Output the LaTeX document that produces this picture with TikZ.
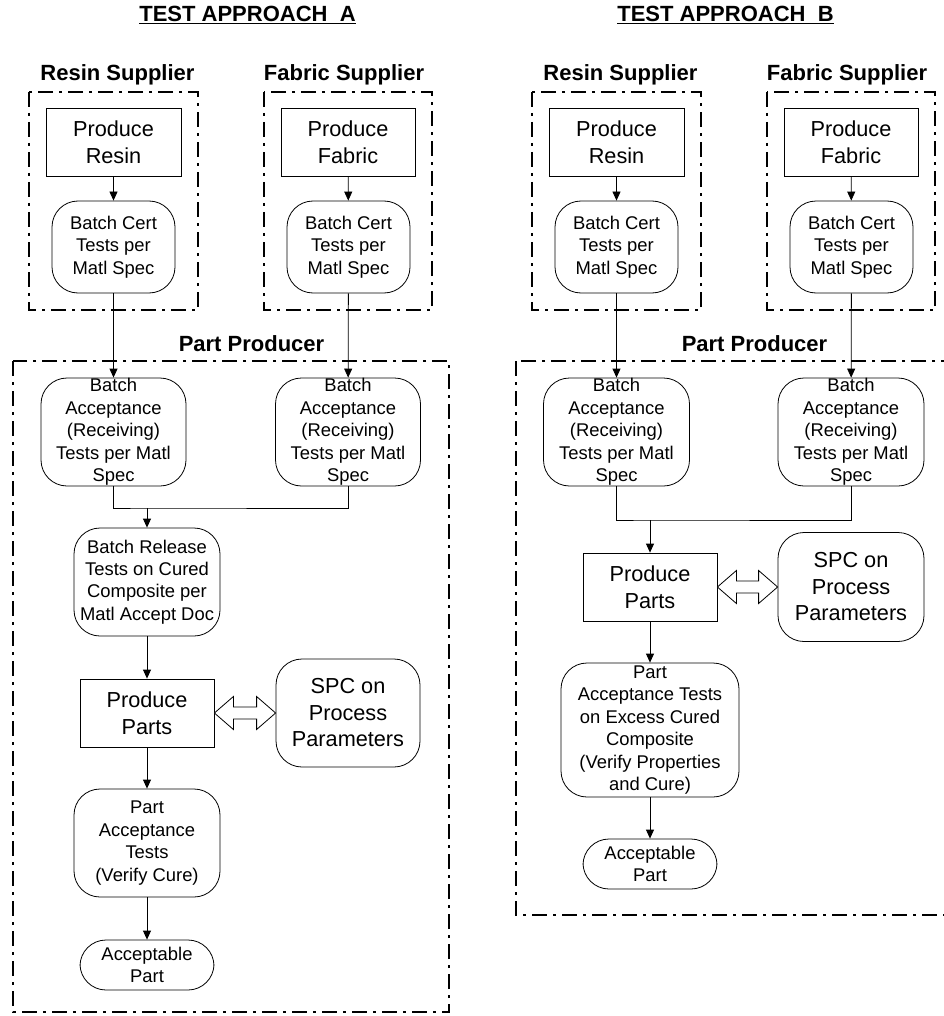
\documentclass[tikz,border=0pt]{standalone}
\usepackage{fontspec}
\setmainfont{Liberation Sans}
\usetikzlibrary{arrows.meta,calc}

\begin{document}
\begin{tikzpicture}[x=1pt,y=-1pt,
    every node/.style={inner sep=0pt, align=center},
    proc/.style={draw, line width=0.8pt, minimum width=134pt, minimum height=68pt,
      font=\fontsize{21.7}{27}\selectfont},
    test/.style={draw, line width=0.8pt, rounded corners=26pt,
      font=\fontsize{18.4}{22.4}\selectfont},
    big/.style={font=\fontsize{21.7}{26.5}\selectfont},
    grp/.style={line width=2pt, dash pattern=on 15pt off 6pt on 3pt off 6pt},
    lbl/.style={font=\fontsize{22}{26}\selectfont\bfseries, anchor=base},
    arr/.style={-{Triangle[length=9pt,width=8pt]}, line width=0.8pt},
    dblarr/.style={draw, line width=0.8pt, fill=white}]
  \useasboundingbox (0,0) rectangle (943,1016);
  \def\dblarrow#1#2{%
    \draw[dblarr] (#1.east) -- ++(19,-16.5) -- ++(0,10.5)
      -- ($(#2.west)+(-19,-6)$) -- ++(0,-10.5) -- (#2.west)
      -- ++(-19,16.5) -- ++(0,-10.5) -- ($(#1.east)+(19,6)$)
      -- ++(0,10.5) -- cycle;}

  % titles and group labels
  \node[lbl] (ttlA) at (247.5,22) {\underline{TEST APPROACH~~A}};
  \node[lbl] (ttlB) at (725.5,22) {\underline{TEST APPROACH~~B}};
  \node[lbl] (resA) at (117.5,81) {Resin Supplier};
  \node[lbl] (fabA) at (344,81) {Fabric Supplier};
  \node[lbl] (resB) at (620.5,81) {Resin Supplier};
  \node[lbl] (fabB) at (847,81) {Fabric Supplier};
  \node[lbl] (ppdA) at (251.5,351) {Part Producer};
  \node[lbl] (ppdB) at (754.5,351) {Part Producer};

  % dash-dot frames
  \draw[grp] (29,92) rectangle (198,310);
  \draw[grp] (264,92) rectangle (432,310);
  \draw[grp] (13,361) rectangle (449,1012);
  \draw[grp] (532,92) rectangle (701,310);
  \draw[grp] (767,92) rectangle (935,310);
  \draw[grp] (516,361) rectangle (962,915);

  % approach A
  \node[proc, minimum width=135pt] (prA) at (113.5,142) {Produce\\Resin};
  \node[proc] (pfA) at (348,142) {Produce\\Fabric};
  \node[test, minimum width=123pt, minimum height=92pt] (bcrA) at (113.5,247) {Batch Cert\\Tests per\\Matl Spec};
  \node[test, minimum width=123pt, minimum height=92pt] (bcfA) at (348.5,247) {Batch Cert\\Tests per\\Matl Spec};
  \node[test, minimum width=145pt, minimum height=108pt] (baRA) at (113.5,432) {Batch\\Acceptance\\(Receiving)\\Tests per Matl\\Spec};
  \node[test, minimum width=145pt, minimum height=108pt] (baFA) at (348,432) {Batch\\Acceptance\\(Receiving)\\Tests per Matl\\Spec};
  \coordinate (jA) at (147,508);
  \node[test, minimum width=146pt, minimum height=108pt] (brA) at (147,582) {Batch Release\\Tests on Cured\\Composite per\\Matl Accept Doc};
  \node[proc] (ppA) at (147,713) {Produce\\Parts};
  \node[test, big, minimum width=144pt, minimum height=108pt] (spcA) at (348,713) {SPC on\\Process\\Parameters};
  \node[test, minimum width=146pt, minimum height=108pt] (paA) at (147,843) {Part\\Acceptance\\Tests\\(Verify Cure)};
  \node[test, minimum width=134pt, minimum height=50pt] (apA) at (147,965) {Acceptable\\Part};

  \draw[arr] (prA) -- (bcrA);
  \draw[arr] (pfA) -- (bcfA);
  \draw[arr] (bcrA) -- (baRA);
  \draw[arr] (bcfA) -- (baFA);
  \draw[line width=0.8pt] (baRA.south) |- (jA) -| (baFA.south);
  \draw[arr] (jA) -- (brA);
  \draw[arr] (brA) -- (ppA);
  \draw[arr] (ppA) -- (paA);
  \draw[arr] (paA) -- (apA);
  \dblarrow{ppA}{spcA}

  % approach B
  \node[proc, minimum width=135pt] (prB) at (616.5,142) {Produce\\Resin};
  \node[proc] (pfB) at (851,142) {Produce\\Fabric};
  \node[test, minimum width=123pt, minimum height=92pt] (bcrB) at (616.5,247) {Batch Cert\\Tests per\\Matl Spec};
  \node[test, minimum width=123pt, minimum height=92pt] (bcfB) at (851.5,247) {Batch Cert\\Tests per\\Matl Spec};
  \node[test, minimum width=146pt, minimum height=108pt] (baRB) at (616.5,432) {Batch\\Acceptance\\(Receiving)\\Tests per Matl\\Spec};
  \node[test, minimum width=146pt, minimum height=108pt] (baFB) at (851,432) {Batch\\Acceptance\\(Receiving)\\Tests per Matl\\Spec};
  \coordinate (jB) at (650,520);
  \node[proc] (ppB) at (650,587) {Produce\\Parts};
  \node[test, big, minimum width=146pt, minimum height=109pt] (spcB) at (851,587) {SPC on\\Process\\Parameters};
  \node[test, minimum width=178pt, minimum height=134pt] (paB) at (650,730) {Part\\Acceptance Tests\\on Excess Cured\\Composite\\(Verify Properties\\and Cure)};
  \node[test, minimum width=134pt, minimum height=50pt] (apB) at (650,864) {Acceptable\\Part};

  \draw[arr] (prB) -- (bcrB);
  \draw[arr] (pfB) -- (bcfB);
  \draw[arr] (bcrB) -- (baRB);
  \draw[arr] (bcfB) -- (baFB);
  \draw[line width=0.8pt] (baRB.south) |- (jB) -| (baFB.south);
  \draw[arr] (jB) -- (ppB);
  \draw[arr] (ppB) -- (paB);
  \draw[arr] (paB) -- (apB);
  \dblarrow{ppB}{spcB}
\end{tikzpicture}
\end{document}
